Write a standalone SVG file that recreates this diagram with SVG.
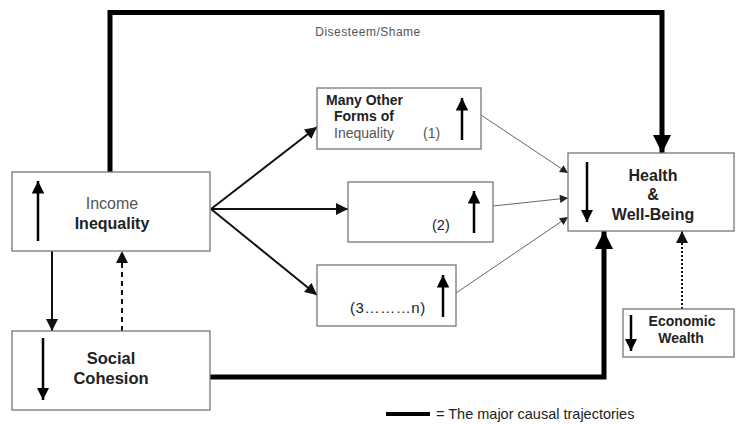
<svg xmlns="http://www.w3.org/2000/svg" width="737" height="424" viewBox="0 0 737 424">
  <style>
    .box { fill: #fff; stroke: #777; stroke-width: 1.3; }
    .t { font-family: "Liberation Sans", Arial, sans-serif; fill: #222; }
    .b { font-weight: bold; }
    .g { fill: #555; }
    .thick { fill: none; stroke: #000; stroke-width: 5; stroke-linejoin: miter; }
    .mid { fill: none; stroke: #111; stroke-width: 2; }
    .thin { fill: none; stroke: #555; stroke-width: 0.9; }
    .inarrow { fill: none; stroke: #000; stroke-width: 2.5; }
  </style>
  <defs>
    <marker id="bigHead" viewBox="0 0 10 10" refX="10" refY="5" markerWidth="3.6" markerHeight="3.6" orient="auto" markerUnits="strokeWidth">
      <path d="M0,0 L10,5 L0,10 Z" fill="#000"/>
    </marker>
    <marker id="midHead" viewBox="0 0 10 10" refX="10" refY="5" markerWidth="6" markerHeight="6" orient="auto" markerUnits="strokeWidth">
      <path d="M0,0 L10,5 L0,10 Z" fill="#111"/>
    </marker>
    <marker id="thinHead" viewBox="0 0 10 10" refX="10" refY="5" markerWidth="10" markerHeight="9" orient="auto" markerUnits="strokeWidth">
      <path d="M0,0 L10,5 L0,10 Z" fill="#222"/>
    </marker>
    <marker id="inHead" viewBox="0 0 10 10" refX="10" refY="5" markerWidth="5" markerHeight="5" orient="auto" markerUnits="strokeWidth">
      <path d="M0,0 L10,5 L0,10 Z" fill="#000"/>
    </marker>
  </defs>

  <!-- connectors -->
  <g id="connectors">
    <!-- major causal trajectories -->
    <polyline class="thick" points="110,172 110,12.5 662,12.5 662,153" marker-end="url(#bigHead)"/>
    <polyline class="thick" points="210,377 604,377 604,231" marker-end="url(#bigHead)"/>
    <!-- income inequality to its forms -->
    <line class="mid" x1="211" y1="209" x2="317" y2="127" marker-end="url(#midHead)"/>
    <line class="mid" x1="211" y1="209" x2="348" y2="209" marker-end="url(#midHead)"/>
    <line class="mid" x1="211" y1="209" x2="317" y2="295" marker-end="url(#midHead)"/>
    <!-- forms of inequality to health -->
    <line class="thin" x1="481" y1="115" x2="568" y2="173" marker-end="url(#thinHead)"/>
    <line class="thin" x1="493" y1="206" x2="568" y2="198" marker-end="url(#thinHead)"/>
    <line class="thin" x1="456" y1="293" x2="568" y2="217" marker-end="url(#thinHead)"/>
    <!-- income / cohesion feedback -->
    <line class="mid" x1="52" y1="251" x2="52" y2="331" marker-end="url(#midHead)"/>
    <line class="mid" x1="122" y1="331" x2="122" y2="251" stroke-dasharray="5,4" stroke-width="1.6" marker-end="url(#midHead)"/>
    <!-- economic wealth to health -->
    <line class="mid" x1="682" y1="309" x2="682" y2="231" stroke-dasharray="2,2" stroke-width="1.8" marker-end="url(#midHead)"/>
  </g>

  <text class="t g" x="368" y="36" font-size="12" letter-spacing="0.5" text-anchor="middle">Disesteem/Shame</text>

  <g id="income-inequality">
    <rect class="box" x="12" y="172" width="198" height="79"/>
    <line class="inarrow" x1="38" y1="241" x2="38" y2="181" marker-end="url(#inHead)"/>
    <text class="t g" x="112" y="209" font-size="16" text-anchor="middle">Income</text>
    <text class="t b" x="112" y="229" font-size="16" text-anchor="middle">Inequality</text>
  </g>

  <g id="social-cohesion">
    <rect class="box" x="12" y="331" width="198" height="79"/>
    <line class="inarrow" x1="43" y1="338" x2="43" y2="400" marker-end="url(#inHead)"/>
    <text class="t b" x="111" y="364" font-size="16.5" text-anchor="middle">Social</text>
    <text class="t b" x="111" y="384" font-size="16.5" text-anchor="middle">Cohesion</text>
  </g>

  <g id="other-inequality-1">
    <rect class="box" x="317" y="88" width="164" height="61"/>
    <line class="inarrow" x1="462" y1="140" x2="462" y2="98" marker-end="url(#inHead)"/>
    <text class="t b" x="326" y="105" font-size="14">Many Other</text>
    <text class="t b" x="334" y="121" font-size="14">Forms of</text>
    <text class="t g" x="334" y="138" font-size="14">Inequality</text>
    <text class="t g" x="423" y="138" font-size="14">(1)</text>
  </g>

  <g id="other-inequality-2">
    <rect class="box" x="348" y="182" width="145" height="60"/>
    <line class="inarrow" x1="474" y1="233" x2="474" y2="191" marker-end="url(#inHead)"/>
    <text class="t" x="432" y="230" font-size="14.5">(2)</text>
  </g>

  <g id="other-inequality-n">
    <rect class="box" x="317" y="265" width="139" height="61"/>
    <line class="inarrow" x1="443" y1="317" x2="443" y2="275" marker-end="url(#inHead)"/>
    <text class="t" x="350" y="313" font-size="15" letter-spacing="0.6">(3………n)</text>
  </g>

  <g id="health">
    <rect class="box" x="568" y="153" width="166" height="78"/>
    <line class="inarrow" x1="587" y1="162" x2="587" y2="222" marker-end="url(#inHead)"/>
    <text class="t b" x="653" y="181" font-size="16" text-anchor="middle">Health</text>
    <text class="t b" x="653" y="200" font-size="16" text-anchor="middle">&amp;</text>
    <text class="t b" x="653" y="220" font-size="16" text-anchor="middle">Well-Being</text>
  </g>

  <g id="economic-wealth">
    <rect class="box" x="623" y="309" width="111" height="48"/>
    <line class="inarrow" x1="631" y1="315" x2="631" y2="351" stroke-width="2" marker-end="url(#inHead)"/>
    <text class="t b" x="682" y="326" font-size="14" text-anchor="middle">Economic</text>
    <text class="t b" x="681" y="343" font-size="14" text-anchor="middle">Wealth</text>
  </g>

  <g id="legend">
    <line x1="386" y1="414" x2="430" y2="414" stroke="#000" stroke-width="4"/>
    <text class="t" x="436" y="419" font-size="14.5">= The major causal trajectories</text>
  </g>
</svg>
